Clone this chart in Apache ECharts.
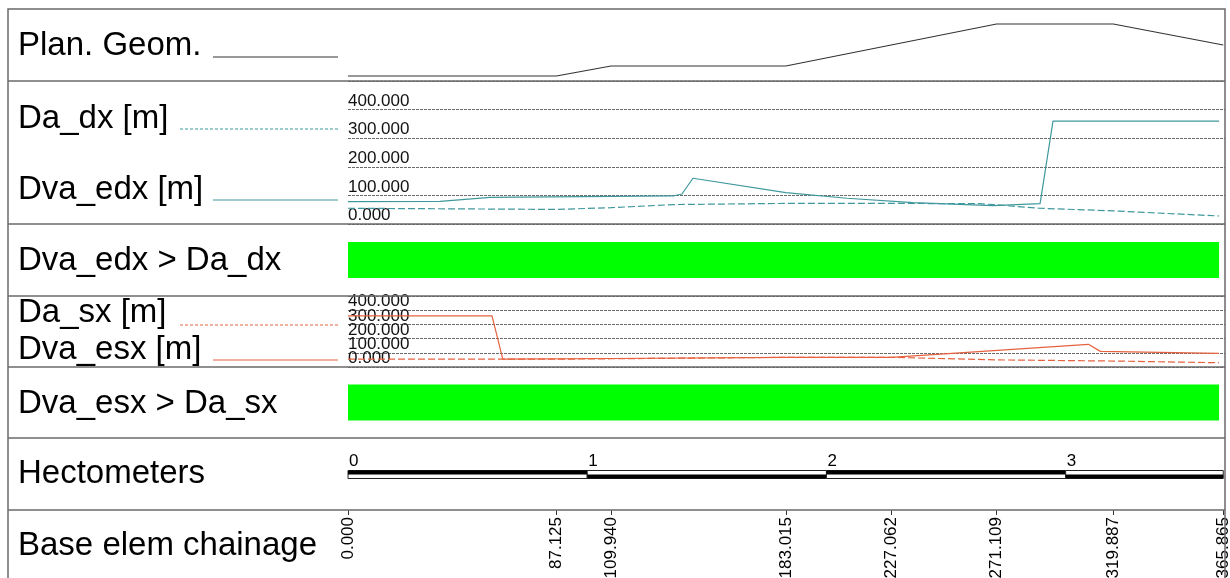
<!DOCTYPE html>
<html>
<head>
<meta charset="utf-8">
<script src="https://cdn.jsdelivr.net/npm/echarts@6/dist/echarts.min.js"></script>
<style>
  html, body { margin: 0; padding: 0; background: #ffffff; }
  #chart { width: 1230px; height: 578px; }
</style>
</head>
<body>
<div id="chart"></div>
<script>
// Stations shown on the chainage ruler [m]
const chainageTicks = [0, 87.125, 109.940, 183.015, 227.062, 271.109, 319.887, 364.120, 365.865];
// Hectometer marks (x100 m)
const hectometers = [0, 1, 2, 3];
const alignmentEnd = 365.865;
// Distance scale labels [m]
const distanceTicks = [0, 100, 200, 300, 400];

// Plan geometry diagram (relative curvature index)
const planGeom = [[0, 0], [87.125, 0], [109.940, 10], [183.015, 10], [271.109, 52], [319.887, 52], [365.865, 31]];

// Right side: available distance and required distance [m]
const daDx = [[0, 55], [87.125, 51], [109.940, 57], [136, 68], [183.015, 72], [227.062, 72], [264, 71], [271.109, 67], [289, 55], [319.887, 46], [364.120, 28]];
const dvaEdx = [[0, 78], [38.5, 79], [59.4, 93], [135.9, 98], [139.6, 105], [144.2, 160], [183.015, 110], [208.6, 90], [236.2, 75], [269.6, 64], [289.3, 71], [294.7, 360], [364.120, 360]];

// Left side: available distance and required distance [m]
const daSx = [[0, 56], [87.125, 55], [109.940, 58], [183.015, 68], [227.062, 68], [271.109, 50], [319.887, 42], [364.120, 30]];
const dvaEsx = [[0, 360], [60.2, 360], [64.7, 56], [109.940, 60], [183.015, 68], [227.062, 68], [309.5, 160], [314.5, 110], [364.120, 96]];

// Stretches where the check is satisfied [from, to]
const checkDx = [[0, 364.120]];
const checkSx = [[0, 364.120]];

const TEAL = '#3f989c';
const RED = '#e6623e';
const GREEN = '#00ff00';
const FONT = '"Liberation Sans", Arial, sans-serif';

const PLOT_LEFT = 348;
const PLOT_RIGHT = 5;
const X_MAX = 366.6;
const FRAME_L = 8, FRAME_R = 1225, FRAME_T = 9;
const bandLines = [81, 224, 296, 367, 438, 510];

const chart = echarts.init(document.getElementById('chart'), null, { renderer: 'canvas' });

function grid(top, height) {
  return { left: PLOT_LEFT, right: PLOT_RIGHT, top: top, height: height, containLabel: false, outerBoundsMode: 'none' };
}
function hiddenX(i) {
  return { gridIndex: i, type: 'value', min: 0, max: X_MAX, show: false };
}
function hiddenY(i, min, max) {
  return { gridIndex: i, type: 'value', min: min, max: max, show: false };
}
// Distance axis; labels split over two axes (even/odd) so tightly packed labels all stay visible
function distanceY(i, parity, withGrid) {
  return {
    gridIndex: i, type: 'value', min: 0, max: 500, interval: 100,
    position: 'left', offset: 0,
    axisLine: { show: false }, axisTick: { show: false },
    axisLabel: {
      inside: true, margin: 0, verticalAlign: 'bottom', fontSize: 17, color: '#111', fontFamily: FONT,
      hideOverlap: false, showMinLabel: true, showMaxLabel: true,
      customValues: distanceTicks.filter((v, k) => k % 2 === parity),
      formatter: v => Number(v).toFixed(3)
    },
    splitLine: { show: withGrid, lineStyle: { color: '#6a6a6a', width: 1, type: [3, 1] } }
  };
}

function checkBar(params, api) {
  const a = api.coord([api.value(0), 0.5]);
  const b = api.coord([api.value(1), 0.5]);
  return {
    type: 'rect',
    shape: { x: a[0], y: a[1] - 18, width: b[0] - a[0], height: 36 },
    style: { fill: GREEN }
  };
}

const hectoSegments = hectometers.map(h => [h * 100, Math.min((h + 1) * 100, alignmentEnd), h]);

function hectoBar(params, api) {
  const a = api.coord([api.value(0), 0.5]);
  const b = api.coord([api.value(1), 0.5]);
  const idx = api.value(2);
  const y0 = Math.round(a[1]) - 3.5;
  const w = b[0] - a[0];
  return {
    type: 'group',
    children: [
      { type: 'rect', shape: { x: a[0], y: y0, width: w, height: 8 }, style: { fill: '#fff', stroke: '#222', lineWidth: 1 } },
      { type: 'rect', shape: { x: a[0], y: idx % 2 === 0 ? y0 : y0 + 4, width: w, height: 4 }, style: { fill: '#000' } },
      { type: 'text', x: a[0] + 1, y: y0 - 1, style: { text: String(idx), fontSize: 17, fontFamily: FONT, fill: '#000', verticalAlign: 'bottom', align: 'left' } }
    ]
  };
}

// Left column captions and legend samples
const captions = [
  ['Plan. Geom.', 46], ['Da_dx [m]', 119], ['Dva_edx [m]', 190], ['Dva_edx > Da_dx', 261],
  ['Da_sx [m]', 313], ['Dva_esx [m]', 350], ['Dva_esx > Da_sx', 404],
  ['Hectometers', 474], ['Base elem chainage', 546]
];
const samples = [
  [213, 57, '#333', 'solid'], [180, 129, TEAL, [3, 2]], [213, 200, TEAL, 'solid'],
  [180, 325, RED, [3, 2]], [213, 360, RED, 'solid']
];

const graphic = [];
graphic.push({
  type: 'rect', z: 10, silent: true,
  shape: { x: FRAME_L, y: FRAME_T, width: FRAME_R - FRAME_L, height: 600 },
  style: { fill: 'none', stroke: '#6a6a6a', lineWidth: 1.5 }
});
bandLines.forEach(y => graphic.push({
  type: 'line', z: 10, silent: true,
  shape: { x1: FRAME_L, y1: y, x2: FRAME_R, y2: y },
  style: { stroke: '#6a6a6a', lineWidth: 1.5 }
}));
captions.forEach(([t, y]) => graphic.push({
  type: 'text', z: 10, silent: true, x: 18, y: y,
  style: { text: t, fontSize: 33, fontFamily: FONT, fill: '#000', verticalAlign: 'middle', align: 'left' }
}));
samples.forEach(([x1, y, c, t]) => graphic.push({
  type: 'line', z: 10, silent: true,
  shape: { x1: x1, y1: y, x2: 338, y2: y },
  style: { stroke: c, lineWidth: 1, lineDash: t === 'solid' ? null : t }
}));

const lineSeries = (name, data, x, y, color, dash) => ({
  name: name, type: 'line', xAxisIndex: x, yAxisIndex: y, data: data,
  showSymbol: false, symbol: 'none', animation: false,
  lineStyle: { color: color, width: 1.2, type: dash || 'solid' }
});

chart.setOption({
  animation: false,
  backgroundColor: '#ffffff',
  grid: [grid(9, 72), grid(81, 143), grid(224, 72), grid(296, 71), grid(367, 71), grid(438, 72)],
  xAxis: [
    hiddenX(0), hiddenX(1), hiddenX(2), hiddenX(3), hiddenX(4),
    {
      gridIndex: 5, type: 'value', min: 0, max: X_MAX, position: 'bottom',
      axisLine: { show: false },
      splitLine: { show: false },
      axisTick: { show: true, customValues: chainageTicks, length: 5, lineStyle: { color: '#333' } },
      axisLabel: {
        show: true, customValues: chainageTicks, rotate: 90, margin: 7,
        hideOverlap: false, showMinLabel: true, showMaxLabel: true,
        fontSize: 17, fontFamily: FONT, color: '#000',
        formatter: v => Number(v).toFixed(3)
      }
    }
  ],
  yAxis: [
    hiddenY(0, -5, 67),          // 0 plan geometry
    distanceY(1, 0, true),       // 1 right side distances
    hiddenY(2, 0, 1),            // 2 right check
    distanceY(3, 0, true),       // 3 left side distances
    hiddenY(4, 0, 1),            // 4 left check
    hiddenY(5, 0, 1),            // 5 hectometers / chainage
    distanceY(1, 1, false),      // 6 odd labels, right side
    distanceY(3, 1, false)       // 7 odd labels, left side
  ],
  graphic: graphic,
  series: [
    lineSeries('Plan. Geom.', planGeom, 0, 0, '#333'),
    lineSeries('Da_dx', daDx, 1, 1, TEAL, [7, 3]),
    lineSeries('Dva_edx', dvaEdx, 1, 1, TEAL),
    { type: 'custom', xAxisIndex: 2, yAxisIndex: 2, data: checkDx, encode: { x: [0, 1] }, renderItem: checkBar, animation: false },
    lineSeries('Da_sx', daSx, 3, 3, RED, [7, 3]),
    lineSeries('Dva_esx', dvaEsx, 3, 3, RED),
    { type: 'custom', xAxisIndex: 4, yAxisIndex: 4, data: checkSx, encode: { x: [0, 1] }, renderItem: checkBar, animation: false },
    { type: 'custom', xAxisIndex: 5, yAxisIndex: 5, data: hectoSegments, encode: { x: [0, 1] }, renderItem: hectoBar, animation: false }
  ]
});
</script>
</body>
</html>
